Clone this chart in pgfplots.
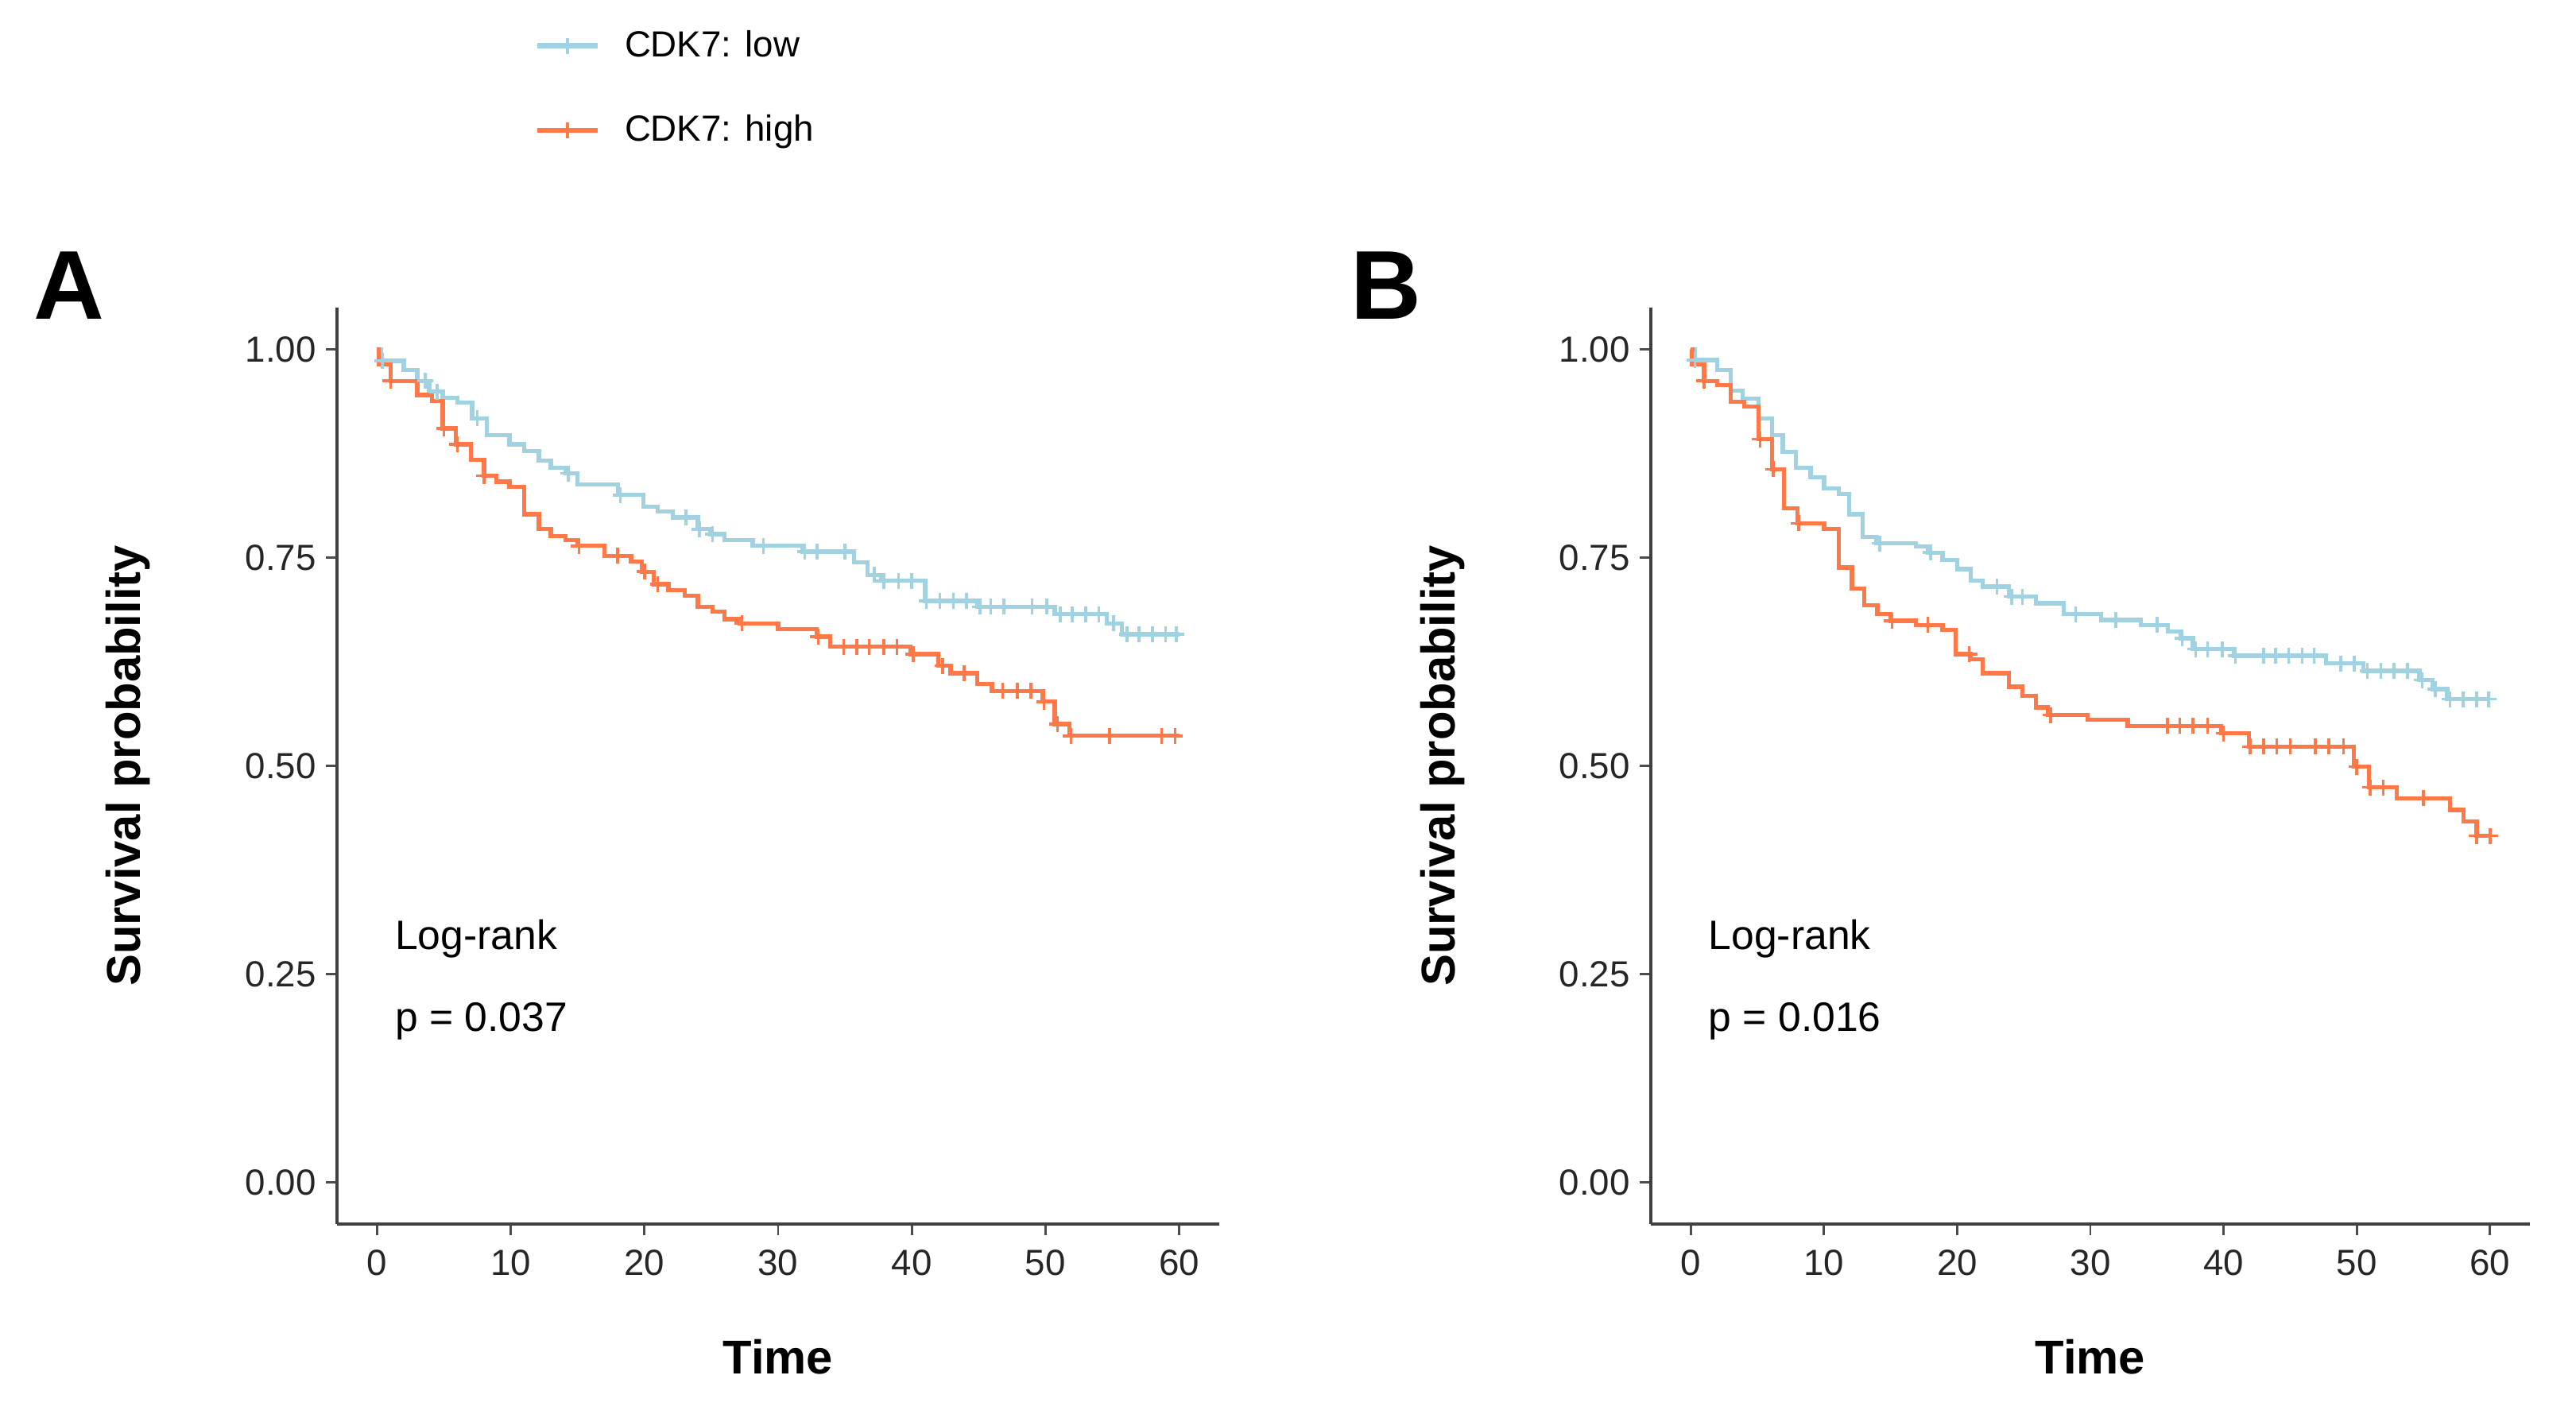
\documentclass[border=0pt]{standalone}
\usepackage{fontspec}
\setmainfont{Liberation Sans}
\usepackage{pgfplots}
\usepackage{pgfplotstable}
\pgfplotsset{compat=1.18}

\definecolor{lowc}{RGB}{160,210,226}
\definecolor{highc}{RGB}{255,120,72}

% Kaplan-Meier steps (t, S) and censoring marks
\pgfplotstableread{
t s
0 1.000
0.3 0.986
2.0 0.975
3.0 0.962
3.9 0.949
4.9 0.942
6.0 0.936
7.1 0.917
8.2 0.897
9.9 0.886
11.0 0.878
12.1 0.866
13.0 0.858
14.1 0.851
15.0 0.838
18.0 0.825
19.9 0.811
21.0 0.805
22.1 0.798
24.0 0.784
24.9 0.778
26.0 0.771
28.1 0.764
31.8 0.757
35.7 0.744
36.7 0.729
37.7 0.722
41.0 0.698
44.9 0.691
50.7 0.682
54.6 0.671
55.7 0.658
60.0 0.658
}\lowA
\pgfplotstableread{
t s
0.4 0.986
3.6 0.962
4.5 0.949
7.5 0.917
14.3 0.851
18.2 0.825
23.1 0.798
24.1 0.784
25.1 0.778
28.9 0.764
32.0 0.757
32.9 0.757
35.0 0.757
37.2 0.729
37.9 0.722
39.0 0.722
40.0 0.722
41.1 0.698
42.1 0.698
43.1 0.698
44.1 0.698
45.1 0.691
45.9 0.691
46.9 0.691
49.0 0.691
50.1 0.691
51.1 0.682
52.0 0.682
53.0 0.682
54.0 0.682
55.1 0.671
56.1 0.658
57.0 0.658
58.0 0.658
59.0 0.658
59.8 0.658
}\lowAc
\pgfplotstableread{
t s
0 1.000
0.1 0.982
1.0 0.962
3.0 0.945
4.1 0.938
4.9 0.905
5.9 0.886
7.0 0.867
8.0 0.848
8.9 0.841
9.9 0.835
11.0 0.802
12.1 0.784
13.0 0.776
14.1 0.771
15.0 0.764
17.0 0.752
19.0 0.745
19.8 0.733
20.7 0.718
21.8 0.711
23.0 0.704
24.0 0.691
25.1 0.685
26.0 0.676
27.1 0.671
30.0 0.664
32.9 0.655
33.9 0.643
39.9 0.634
42.0 0.620
42.9 0.611
44.9 0.598
46.0 0.590
49.8 0.577
50.7 0.550
51.8 0.536
60.0 0.536
}\highA
\pgfplotstableread{
t s
1.0 0.962
5.0 0.905
6.0 0.886
8.0 0.848
15.1 0.764
18.0 0.752
20.0 0.733
21.0 0.718
27.3 0.671
33.0 0.655
34.9 0.643
35.9 0.643
36.8 0.643
37.9 0.643
38.9 0.643
40.1 0.634
42.3 0.620
43.9 0.611
46.8 0.590
47.9 0.590
48.9 0.590
49.9 0.577
50.9 0.550
51.9 0.536
54.8 0.536
58.7 0.536
59.7 0.536
}\highAc
\pgfplotstableread{
t s
0 1.000
0.3 0.987
2.0 0.975
3.0 0.950
3.9 0.941
5.1 0.917
6.1 0.897
6.9 0.877
7.9 0.858
9.0 0.846
10.0 0.833
11.1 0.826
11.9 0.802
12.9 0.775
13.9 0.767
16.9 0.763
17.8 0.756
18.9 0.747
20.0 0.736
21.0 0.722
21.9 0.715
23.9 0.703
25.9 0.695
28.0 0.682
30.8 0.675
33.8 0.669
35.8 0.661
36.8 0.653
37.7 0.640
40.8 0.632
47.7 0.623
50.5 0.614
54.7 0.603
55.7 0.592
56.8 0.580
60.0 0.580
}\lowB
\pgfplotstableread{
t s
0.3 0.987
14.2 0.767
18.0 0.756
23.0 0.715
24.1 0.703
24.9 0.703
28.9 0.682
31.9 0.675
35.0 0.669
36.9 0.653
37.9 0.640
38.8 0.640
39.9 0.640
40.9 0.632
43.0 0.632
43.9 0.632
44.9 0.632
45.9 0.632
46.8 0.632
48.8 0.623
49.8 0.623
50.8 0.614
51.8 0.614
52.8 0.614
53.8 0.614
54.9 0.603
55.9 0.592
57.0 0.580
58.0 0.580
59.0 0.580
59.9 0.580
}\lowBc
\pgfplotstableread{
t s
0 1.000
0.1 0.982
1.0 0.962
2.0 0.957
3.0 0.937
4.0 0.931
5.1 0.892
6.1 0.856
7.0 0.809
8.0 0.791
10.0 0.784
11.1 0.738
12.1 0.713
13.0 0.693
14.0 0.682
15.0 0.674
16.9 0.669
18.9 0.663
19.9 0.634
21.0 0.628
21.9 0.611
23.9 0.595
24.9 0.584
25.9 0.570
26.8 0.561
29.8 0.555
32.8 0.548
39.8 0.539
41.9 0.523
49.8 0.499
50.9 0.474
53.0 0.461
57.0 0.447
58.0 0.433
59.0 0.416
60.0 0.416
}\highB
\pgfplotstableread{
t s
1.0 0.962
5.2 0.892
6.2 0.856
8.1 0.791
15.1 0.674
17.8 0.669
20.9 0.634
27.0 0.561
35.8 0.548
36.7 0.548
37.7 0.548
38.8 0.548
40.0 0.539
42.0 0.523
43.0 0.523
44.0 0.523
45.0 0.523
46.9 0.523
47.9 0.523
49.0 0.523
50.0 0.499
51.0 0.474
52.0 0.474
55.0 0.461
59.0 0.416
60.0 0.416
}\highBc

\pgfplotsset{
  kmaxis/.style={
    scale only axis, width=11.10cm, height=11.53cm,
    xmin=-3, xmax=63, ymin=-0.05, ymax=1.05,
    axis x line=bottom, axis y line=left,
    axis line style={-, black!75, line width=1pt},
    xtick={0,10,...,60}, ytick={0,0.25,0.5,0.75,1},
    yticklabel style={/pgf/number format/fixed, /pgf/number format/fixed zerofill, /pgf/number format/precision=2},
    xticklabel style={yshift=-0.06cm},
    /pgf/number format/assume math mode=true,
    tick label style={font=\fontsize{13}{15}\selectfont, text=black!85},
    tick align=outside, major tick length=0.14cm,
    tick style={black!70, line width=0.8pt},
    xlabel={Time}, ylabel={Survival probability},
    label style={font=\fontsize{17}{20}\selectfont\bfseries},
    xlabel style={at={(axis description cs:0.5,-0.145)}, anchor=center},
    ylabel style={at={(axis description cs:-0.237,0.5)}, anchor=center},
  },
  kmline/.style={const plot, line width=1.5pt, mark=none},
  kmcens/.style={only marks, mark=+, mark size=0.1cm, line width=1pt},
}
\tikzset{note/.style={anchor=base west, inner sep=0pt, font=\fontsize{14.7}{17}\selectfont}}

\begin{document}
\begin{tikzpicture}
\useasboundingbox (0,0) rectangle (32.41cm,17.79cm);

\node[anchor=base west, inner sep=0pt, font=\fontsize{35}{40}\selectfont\bfseries] at (0.42cm,13.77cm) {A};
\node[anchor=base west, inner sep=0pt, font=\fontsize{35}{40}\selectfont\bfseries] at (16.99cm,13.77cm) {B};

\begin{axis}[kmaxis, at={(4.24cm,2.39cm)}, anchor=south west,
  legend style={at={(axis description cs:0.2234,1.2395)}, anchor=west,
    draw=none, fill=none, inner sep=0pt,
    nodes={inner sep=0pt}, column sep=0.31cm, row sep=0.68cm,
    font=\fontsize{13}{15}\selectfont},
  legend cell align=left,
  legend image code/.code={
    \draw[#1, mark=none] (0cm,0cm) -- (0.76cm,0cm);
    \draw[#1, line width=1pt] plot coordinates {(0.38cm,0cm)};
  },
]
\addlegendimage{lowc, line width=1.8pt, mark=+, mark size=0.1cm}
\addlegendentry{CDK7: low}
\addlegendimage{highc, line width=1.8pt, mark=+, mark size=0.1cm}
\addlegendentry{CDK7: high}

\addplot[kmline, lowc, forget plot] table[x=t, y=s] {\lowA};
\addplot[kmcens, lowc, forget plot] table[x=t, y=s] {\lowAc};
\addplot[kmline, highc, forget plot] table[x=t, y=s] {\highA};
\addplot[kmcens, highc, forget plot] table[x=t, y=s] {\highAc};

\node[note] at (axis cs:1.3,0.280) {Log-rank};
\node[note] at (axis cs:1.3,0.181) {p = 0.037};
\end{axis}

\begin{axis}[kmaxis, width=11.06cm, at={(20.77cm,2.39cm)}, anchor=south west]
\addplot[kmline, lowc] table[x=t, y=s] {\lowB};
\addplot[kmcens, lowc] table[x=t, y=s] {\lowBc};
\addplot[kmline, highc] table[x=t, y=s] {\highB};
\addplot[kmcens, highc] table[x=t, y=s] {\highBc};

\node[note] at (axis cs:1.3,0.280) {Log-rank};
\node[note] at (axis cs:1.3,0.181) {p = 0.016};
\end{axis}
\end{tikzpicture}
\end{document}
